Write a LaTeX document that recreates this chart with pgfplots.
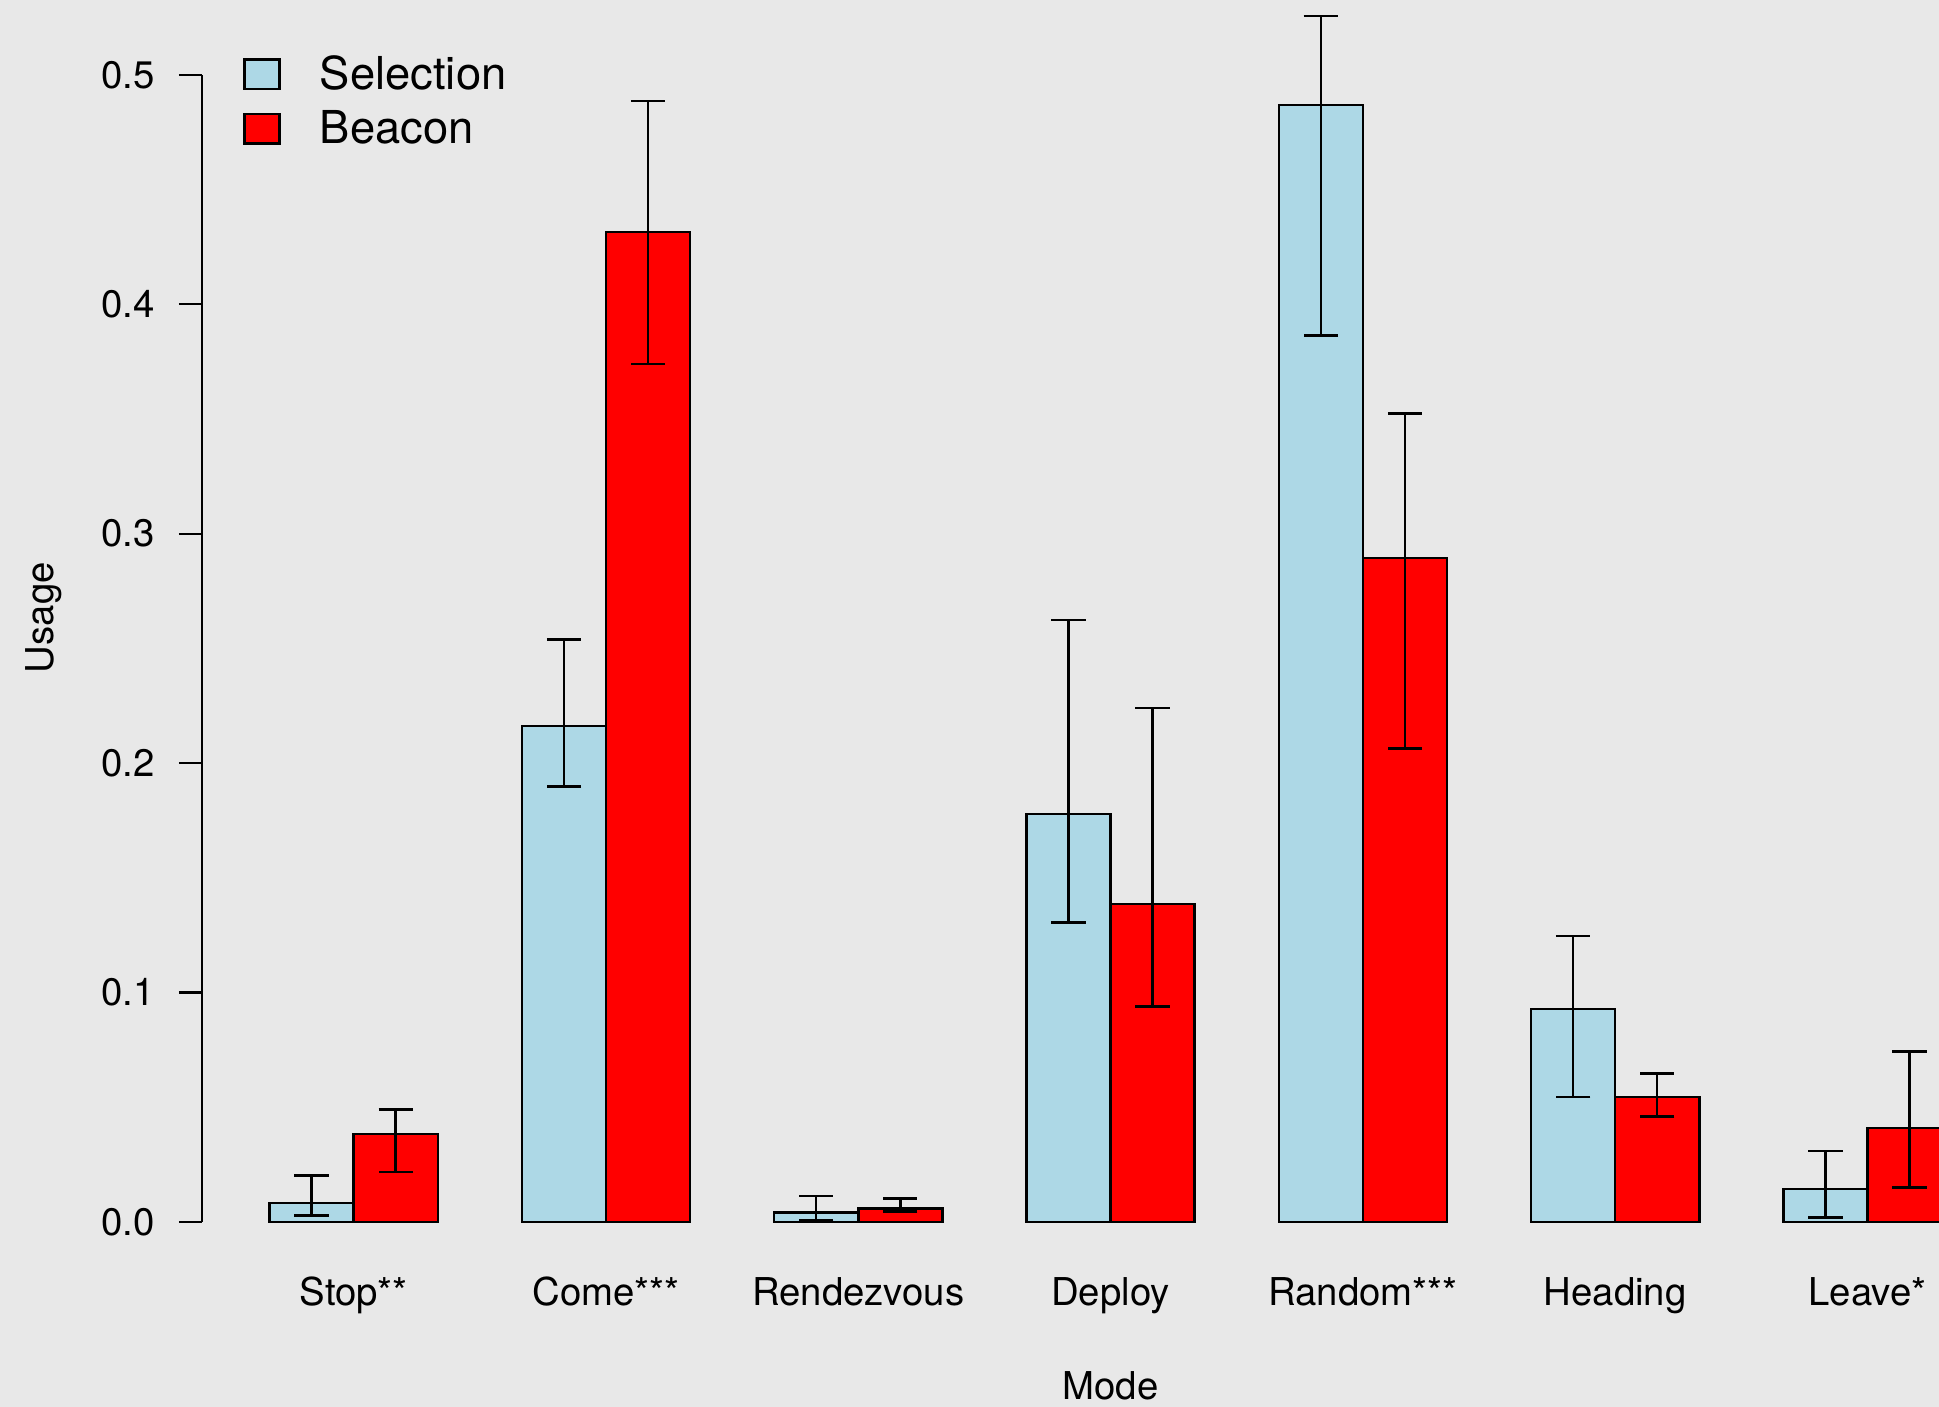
\documentclass[border=0pt]{standalone}
\usepackage{fontspec}
\setmainfont{TeX Gyre Heros}
\usepackage{pgfplots}
\pgfplotsset{compat=1.18}
\usepackage{pgfplotstable}
\definecolor{bg}{RGB}{232,232,232}
\definecolor{lblue}{HTML}{ADD8E6}
\definecolor{rred}{HTML}{FF0000}

% x  value  err+  err-
\pgfplotstableread{
x y ep em
1.5  0.0081 0.0120 0.0053
4.5  0.2161 0.0377 0.0264
7.5  0.0040 0.0072 0.0032
10.5 0.1778 0.0846 0.0474
13.5 0.4869 0.0389 0.1006
16.5 0.0927 0.0318 0.0383
19.5 0.0142 0.0167 0.0124
}\sel
\pgfplotstableread{
x y ep em
2.5  0.0383 0.0107 0.0165
5.5  0.4316 0.0571 0.0577
8.5  0.0057 0.0044 0.0013
11.5 0.1385 0.0856 0.0447
14.5 0.2893 0.0631 0.0829
17.5 0.0544 0.0103 0.0086
20.5 0.0408 0.0334 0.0258
}\bea

\begin{document}
\begin{tikzpicture}
\path[use as bounding box] (0,0) rectangle (581.7pt,422.1pt);
\clip (0,0) rectangle (581.7pt,422.1pt);
\fill[bg] (0,0) rectangle (581.7pt,422.1pt);
\begin{axis}[
  at={(60.69pt,55.56pt)}, anchor=south west,
  x=25.23pt, y=688.1pt,
  xmin=0.2, xmax=21.8, ymin=0, ymax=0.5,
  clip=false,
  axis y line*=left, axis x line*=bottom,
  x axis line style={draw=none},
  y axis line style={line width=0.7pt, black},
  tick align=outside, major tick length=7.05pt,
  ytick={0,0.1,0.2,0.3,0.4,0.5},
  yticklabels={0.0,0.1,0.2,0.3,0.4,0.5},
  xtick={2,5,8,11,14,17,20},
  xticklabels={Stop**,Come***,Rendezvous,Deploy,Random***,Heading,Leave*},
  xtick style={draw=none},
  ytick style={line width=0.7pt, black},
  tick label style={font=\fontsize{11.5}{13.8}\selectfont},
  yticklabel style={anchor=east, inner sep=0pt, xshift=-7.1pt},
  xticklabel style={anchor=base, inner sep=0pt, yshift=-18.2pt},
  /pgf/number format/assume math mode=true,
  legend cell align=left,
  legend style={at={(0.0223,1.0174)}, anchor=north west, draw=none, fill=none,
    inner sep=0pt, row sep=4.9pt, column sep=11.8pt,
    font=\fontsize{13.6}{16}\selectfont,
    nodes={inner sep=0pt}},
]
\addplot[ybar, bar width=25.23pt, bar shift=0pt, fill=lblue, draw=black, line width=0.75pt,
  legend image code/.code={\draw[fill=lblue, draw=black, line width=0.75pt] (0pt,-4.1pt) rectangle (10.4pt,4.7pt);},
  error bars/.cd, y dir=both, y explicit,
  error bar style={line width=0.75pt, black},
  error mark options={rotate=90, line width=0.75pt, mark size=5.15pt, black}]
  table[x=x, y=y, y error plus=ep, y error minus=em] {\sel};
\addlegendentry{Selection}
\addplot[ybar, bar width=25.23pt, bar shift=0pt, fill=rred, draw=black, line width=0.75pt,
  legend image code/.code={\draw[fill=rred, draw=black, line width=0.75pt] (0pt,-4.1pt) rectangle (10.4pt,4.7pt);},
  error bars/.cd, y dir=both, y explicit,
  error bar style={line width=0.75pt, black},
  error mark options={rotate=90, line width=0.75pt, mark size=5.15pt, black}]
  table[x=x, y=y, y error plus=ep, y error minus=em] {\bea};
\addlegendentry{Beacon}
\end{axis}
\node[rotate=90, anchor=base, font=\fontsize{11.5}{13.8}\selectfont] at (15.9pt,236.8pt) {Usage};
\node[anchor=base, font=\fontsize{11.5}{13.8}\selectfont] at (333.2pt,2.1pt) {Mode};
\end{tikzpicture}
\end{document}
